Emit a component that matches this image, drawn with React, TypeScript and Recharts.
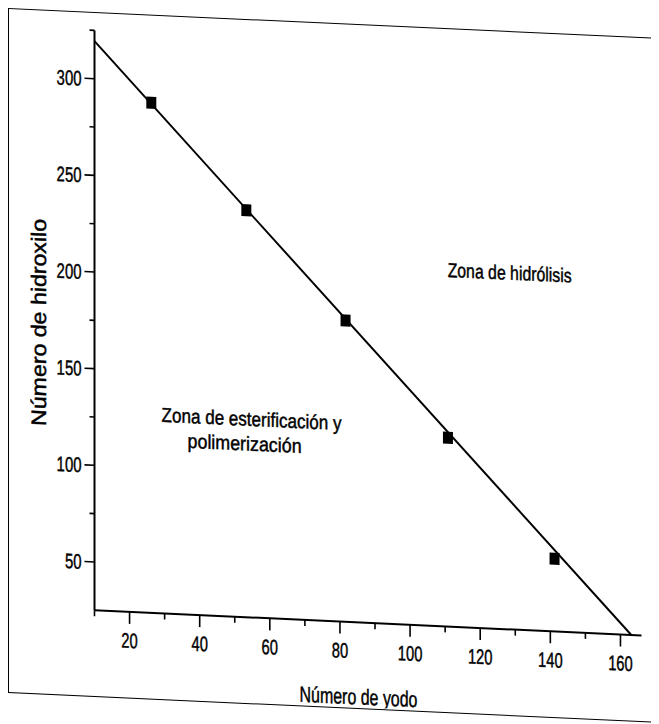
import React from 'react';
import { ComposedChart, Line, Scatter, XAxis, YAxis, ReferenceDot, Label } from 'recharts';

// measured points (iodine number vs hydroxyl number)
const iodine = [26.2, 53.3, 81.6, 110.8, 141.2];
const hydroxyl = [288.9, 235.6, 180.9, 122.7, 62.6];

// fitted straight line, end points
const fitIodine = [10, 163.1];
const fitHydroxyl = [319.4, 25];

const xTicks = [10, 20, 30, 40, 50, 60, 70, 80, 90, 100, 110, 120, 130, 140, 150, 160];
const yTicks = [50, 75, 100, 125, 150, 175, 200, 225, 250, 275, 300, 325];

const zoneLabels = ['Zona de hidrólisis', 'Zona de esterificación y', 'polimerización'];
const zoneX = [128.4, 54.8, 52.8];
const zoneY = [209.5, 127.7, 114.9];
const zoneWidth = [124, 180, 114];

const points = iodine.map((x, i) => ({ x, y: hydroxyl[i] }));
const fitLine = fitIodine.map((x, i) => ({ x, y: fitHydroxyl[i] }));

const FONT = '"Liberation Sans Narrow", "Liberation Sans", Arial, sans-serif';
const ink = { fill: '#000', stroke: '#000', strokeWidth: 0.45 };

const YTick = (props: any) => {
    const { x, y, payload } = props;
    const v = payload.value;
    const major = v % 50 === 0;
    return (
        <g>
            <line x1={x} x2={x - (major ? 10 : 5)} y1={y} y2={y} stroke="#000" strokeWidth={1.6} />
            {major && (
                <text x={x - 13} y={y + 7.5} textAnchor="end" fontSize={21} fontFamily={FONT} {...ink}
                    textLength={String(v).length * 8.3} lengthAdjust="spacingAndGlyphs">{v}</text>
            )}
        </g>
    );
};

const XTick = (props: any) => {
    const { x, y, payload } = props;
    const v = payload.value;
    const major = v % 20 === 0;
    return (
        <g>
            <line x1={x} x2={x} y1={y} y2={y + (major ? 12 : 6)} stroke="#000" strokeWidth={1.6} />
            {major && (
                <text x={x} y={y + 36} textAnchor="middle" fontSize={21} fontFamily={FONT} {...ink}
                    textLength={String(v).length * 8.2} lengthAdjust="spacingAndGlyphs">{v}</text>
            )}
        </g>
    );
};

const Square = (props: any) => (
    <rect x={props.cx - 5} y={props.cy - 6} width={10} height={12} fill="#000" />
);

const XTitle = (props: any) => {
    const { x, y, width } = props.viewBox;
    return (
        <text x={x + width / 2 - 9.5} y={y + 82} textAnchor="middle" fontSize={22} fontFamily={FONT} {...ink}
            textLength={118} lengthAdjust="spacingAndGlyphs">Número de yodo</text>
    );
};

const YTitle = (props: any) => {
    const { y, height } = props.viewBox;
    const cx = 37.2;
    const cy = y + height / 2 + 4.6;
    return (
        <text x={cx} y={cy} transform={`rotate(-90 ${cx} ${cy})`} textAnchor="middle" fontSize={21}
            fontFamily={FONT} {...ink} textLength={207} lengthAdjust="spacingAndGlyphs">Número de hidroxilo</text>
    );
};

const zoneShape = (i: number) => (props: any) => (
    <text x={props.cx} y={props.cy + 7} textAnchor="middle" fontSize={20} fontFamily={FONT} {...ink}
        textLength={zoneWidth[i]} lengthAdjust="spacingAndGlyphs">{zoneLabels[i]}</text>
);

const App: React.FC = () => {
    return (
        <div style={{ width: 651, height: 716 }}>
            <div style={{ width: 647, height: 685, boxSizing: 'border-box', border: '1.5px solid #000', background: '#fff',
                transform: 'skewY(2.634deg)', transformOrigin: '0 0' }}>
                <ComposedChart width={644} height={682} margin={{ top: 17.4, right: 11.5, bottom: 0, left: 0 }}>
                    <XAxis dataKey="x" type="number" domain={[10, 166]} ticks={xTicks} interval={0} allowDataOverflow
                        height={84.7} tickSize={0} tickMargin={0} tickLine={false} tick={XTick}
                        axisLine={{ stroke: '#000', strokeWidth: 2 }}>
                        <Label content={XTitle} />
                    </XAxis>
                    <YAxis dataKey="y" type="number" domain={[25, 325]} ticks={yTicks} interval={0} allowDataOverflow
                        width={85.5} tickSize={0} tickMargin={0} tickLine={false} tick={YTick}
                        axisLine={{ stroke: '#000', strokeWidth: 2 }}>
                        <Label content={YTitle} />
                    </YAxis>
                    <Line data={fitLine} dataKey="y" type="linear" stroke="#000" strokeWidth={2} dot={false} isAnimationActive={false} />
                    <Scatter data={points} dataKey="y" shape={Square} isAnimationActive={false} />
                    {zoneLabels.map((t, i) => (
                        <ReferenceDot key={t} x={zoneX[i]} y={zoneY[i]} r={1} shape={zoneShape(i)} ifOverflow="visible" />
                    ))}
                </ComposedChart>
            </div>
        </div>
    );
};

export default App;
